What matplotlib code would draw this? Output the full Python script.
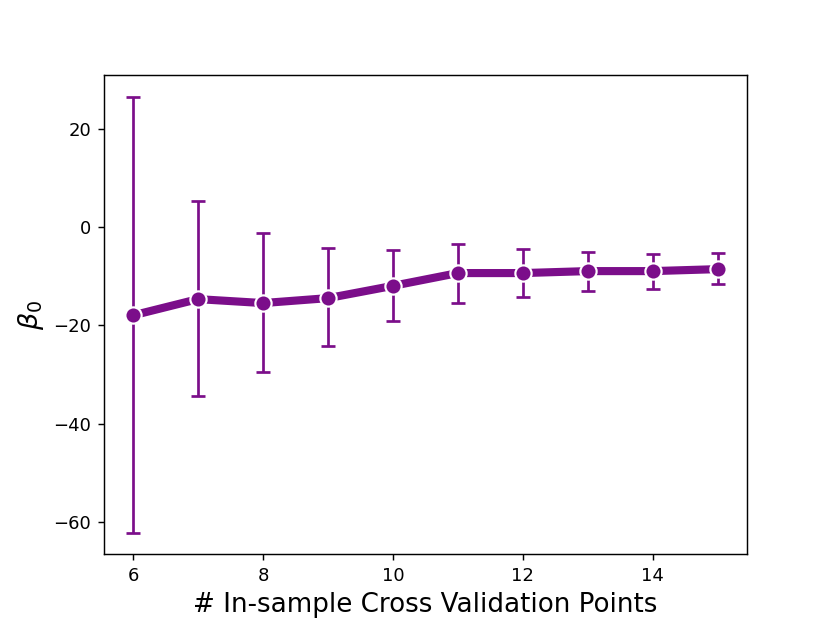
import matplotlib
matplotlib.use("Agg")
import matplotlib.pyplot as plt

# Number of in-sample cross validation points
n_points = [6, 7, 8, 9, 10, 11, 12, 13, 14, 15]

# Estimated beta_0 and its error bar ends
beta0 = [-18.0, -14.7, -15.5, -14.5, -12.0, -9.4, -9.4, -9.0, -9.0, -8.6]
upper = [26.5, 5.3, -1.2, -4.3, -4.7, -3.5, -4.5, -5.1, -5.5, -5.3]
lower = [-62.2, -34.4, -29.6, -24.3, -19.2, -15.4, -14.3, -13.1, -12.6, -11.7]

err_low = [b - l for b, l in zip(beta0, lower)]
err_high = [u - b for u, b in zip(upper, beta0)]

color = "#7B0E8A"

fig, ax = plt.subplots(figsize=(830 / 130, 623 / 130), dpi=130)

ax.errorbar(n_points, beta0, yerr=[err_low, err_high],
            fmt="none", ecolor=color, elinewidth=1.5, capsize=4, capthick=1.5)
ax.plot(n_points, beta0, color=color, linewidth=4.5,
        marker="o", markersize=9, markeredgecolor="white", markeredgewidth=1.2)

ax.set_xlabel("# In-sample Cross Validation Points", fontsize=14.5)
ax.set_ylabel(r"$\beta_0$", fontsize=15)
ax.tick_params(labelsize=10)

plt.savefig("out.png", dpi=130)
